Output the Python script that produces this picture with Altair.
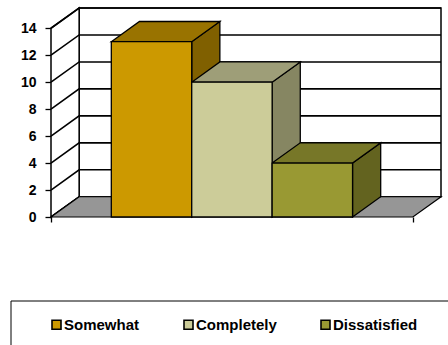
import altair as alt
import pandas as pd

# ---- data ----
categories = ["Somewhat", "Completely", "Dissatisfied"]
values = [13, 10, 4]
front_colors = ["#CC9900", "#CCCC99", "#999933"]
top_colors = ["#997300", "#9E9E78", "#777728"]
side_colors = ["#806000", "#868662", "#63631F"]
y_ticks = [0, 2, 4, 6, 8, 10, 12, 14]

# ---- 3D geometry (in data units) ----
y_max = 14
gap = 0.75      # empty space on each side of the bar group (in bar widths)
dx = 0.35       # depth offset along x (bar widths)
dy = 1.5        # depth offset along y (value units)
x_left = -gap
x_right = len(categories) + gap
x_dom = [x_left, x_right + dx]
y_dom = [0, y_max + dy]

FONT = "Liberation Sans"

x_axis = alt.Axis(values=[x_left, x_right], labels=False, domain=False, grid=False,
                  ticks=True, tickSize=5, tickColor="black", tickWidth=1.3, title=None)
y_axis = alt.Axis(values=y_ticks, domain=False, grid=False, tickSize=6,
                  tickColor="black", tickWidth=1.3, labelFont=FONT, labelFontSize=14,
                  labelFontWeight="bold", labelColor="black", labelPadding=9, title=None)


def X(field):
    return alt.X(f"{field}:Q", scale=alt.Scale(domain=x_dom, nice=False, zero=False), axis=x_axis)


def Y(field):
    return alt.Y(f"{field}:Q", scale=alt.Scale(domain=y_dom, nice=False, zero=False),
                 axis=y_axis, stack=False)


# front faces
front = pd.DataFrame({
    "cat": categories,
    "x0": [i for i in range(len(categories))],
    "x1": [i + 1 for i in range(len(categories))],
    "v": values,
    "base": [0] * len(categories),
})

# top faces (parallelograms with horizontal edges) and side faces
top_rows = []
side_rows = []
for i, (c, v) in enumerate(zip(categories, values)):
    pts = [(i, v, v), (i + dx, v + dy, v), (i + 1, v + dy, v), (i + 1 + dx, v + dy, v + dy)]
    for xx, yy, yy2 in pts:
        top_rows.append({"cat": c, "x": xx, "y": yy, "y2": yy2, "col": top_colors[i]})
    for xx, yy, yy2 in [(i + 1, v, 0), (i + 1 + dx, v + dy, dy)]:
        side_rows.append({"cat": c, "x": xx, "y": yy, "y2": yy2, "col": side_colors[i]})
tops = pd.DataFrame(top_rows)
sides = pd.DataFrame(side_rows)

floor = pd.DataFrame({
    "x": [x_left, x_left + dx, x_right, x_right + dx],
    "y": [0, dy, dy, dy],
    "y2": [0, 0, 0, dy],
})
left_wall = pd.DataFrame({
    "x": [x_left, x_left + dx],
    "y": [y_max, y_max + dy],
    "y2": [0, dy],
})
back_wall = pd.DataFrame({"x": [x_left + dx], "x2": [x_right + dx], "y": [dy], "y2": [y_max + dy]})

grid_rows = []
for t in y_ticks:
    for k, (xx, yy) in enumerate([(x_left, t), (x_left + dx, t + dy), (x_right + dx, t + dy)]):
        grid_rows.append({"t": t, "x": xx, "y": yy, "k": k})
grid = pd.DataFrame(grid_rows)

# ---- layers ----
back_layer = alt.Chart(back_wall).mark_rect(fill="white", stroke="black", strokeWidth=1.5).encode(
    x=X("x"), x2="x2:Q", y=Y("y"), y2="y2:Q")

left_layer = alt.Chart(left_wall).mark_area(orient="vertical", fill="white", stroke="black",
                                            strokeWidth=1.5).encode(
    x=X("x"), y=Y("y"), y2="y2:Q")

grid_layer = alt.Chart(grid).mark_line(color="black", strokeWidth=1.6).encode(
    x=X("x"), y=Y("y"), detail="t:N", order="k:Q")

floor_layer = alt.Chart(floor).mark_area(orient="vertical", fill="#969696", stroke="black",
                                         strokeWidth=1.2).encode(
    x=X("x"), y=Y("y"), y2="y2:Q")

side_layer = alt.Chart(sides).mark_area(orient="vertical", stroke="black", strokeWidth=1.3,
                                        fillOpacity=1).encode(
    x=X("x"), y=Y("y"), y2="y2:Q",
    fill=alt.Fill("col:N", scale=None), detail="cat:N")

top_layer = alt.Chart(tops).mark_area(orient="vertical", stroke="black", strokeWidth=1.3,
                                      fillOpacity=1).encode(
    x=X("x"), y=Y("y"), y2="y2:Q",
    fill=alt.Fill("col:N", scale=None), detail="cat:N")

front_layer = alt.Chart(front).mark_rect(stroke="black", strokeWidth=1.3, fillOpacity=1).encode(
    x=X("x0"), x2="x1:Q", y=Y("v"), y2="base:Q",
    fill=alt.Fill("cat:N", scale=alt.Scale(domain=categories, range=front_colors),
                  sort=categories,
                  legend=alt.Legend(orient="none", legendX=-2, legendY=309, direction="horizontal",
                                    columns=3, title=None, symbolType="square", symbolSize=81,
                                    symbolStrokeColor="black", symbolStrokeWidth=1.6,
                                    labelFont=FONT, labelFontSize=15, labelFontWeight="bold",
                                    labelColor="black", labelOffset=0, columnPadding=40,
                                    padding=0)))

# legend frame (cropped at the right and bottom of the picture, as in the original)
frame_top = alt.Chart(pd.DataFrame({"a": [0]})).mark_rule(color="black", strokeWidth=1).encode(
    x=alt.value(-40), x2=alt.value(397), y=alt.value(293))
frame_left = alt.Chart(pd.DataFrame({"a": [0]})).mark_rule(color="black", strokeWidth=1).encode(
    x=alt.value(-40), y=alt.value(293), y2=alt.value(400))

chart = alt.layer(back_layer, left_layer, grid_layer, floor_layer, side_layer, top_layer,
                  front_layer, frame_top, frame_left).properties(
    width=390, height=209,
    autosize=alt.AutoSizeParams(type="none"),
    padding={"left": 51, "top": 8, "right": 7, "bottom": 128},
    background="white",
).configure_view(stroke=None)

chart.save("out.html", embed_options={"renderer": "svg", "actions": False})
